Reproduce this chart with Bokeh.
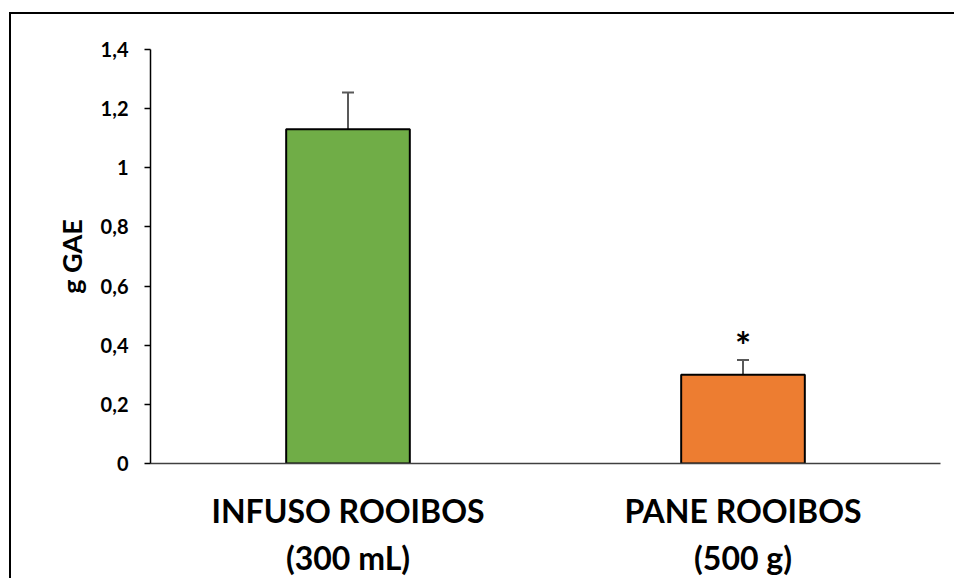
from bokeh.plotting import figure
from bokeh.models import ColumnDataSource, Whisker, TeeHead, FixedTicker, Range1d
from bokeh.core.properties import value
from bokeh.embed import file_html
from bokeh.resources import INLINE

categories = ["INFUSO ROOIBOS\n(300 mL)", "PANE ROOIBOS\n(500 g)"]
means = [1.13, 0.30]
errors = [0.125, 0.05]
colors = ["#70AD47", "#ED7D31"]
marks = ["", "*"]
y_ticks = [0, 0.2, 0.4, 0.6, 0.8, 1.0, 1.2, 1.4]
y_tick_labels = ["0", "0,2", "0,4", "0,6", "0,8", "1", "1,2", "1,4"]

FONT = "Lato"

src = ColumnDataSource(dict(
    x=categories, top=means, err=errors, color=colors, mark=marks,
    upper=[m + e for m, e in zip(means, errors)],
))

p = figure(
    x_range=categories, y_range=Range1d(0, 1.4),
    width=945, height=566, output_backend="svg", toolbar_location=None,
    min_border_left=139, min_border_right=16, min_border_top=35, min_border_bottom=110,
    background_fill_color="white", border_fill_color="white", outline_line_color=None,
    styles={"border-top": "2px solid black", "border-left": "2px solid black",
            "margin-top": "12px", "margin-left": "9px"},
)

p.vbar(x="x", top="top", width=0.313, source=src, fill_color="color",
       line_color="black", line_width=2)

w = Whisker(base="x", lower="top", upper="upper", source=src,
            line_color="#595959", line_width=2,
            upper_head=TeeHead(size=12, line_color="#595959", line_width=2),
            lower_head=None)
p.add_layout(w)

p.text(x="x", y="upper", text="mark", source=src, text_align="center",
       text_baseline="alphabetic", y_offset=-15, text_font=value(FONT),
       text_font_style="bold", text_font_size="38px", text_color="black")

p.xgrid.visible = False
p.ygrid.visible = False

p.yaxis.ticker = FixedTicker(ticks=y_ticks)
p.yaxis.major_label_overrides = {t: l for t, l in zip(y_ticks, y_tick_labels)}
p.yaxis.minor_tick_line_color = None
p.yaxis.major_tick_in = 0
p.yaxis.major_tick_out = 6
p.yaxis.major_tick_line_color = "black"
p.yaxis.major_tick_line_width = 1.5
p.yaxis.axis_line_color = "black"
p.yaxis.axis_line_width = 1.5
p.yaxis.major_label_standoff = 16
p.yaxis.major_label_text_font = FONT
p.yaxis.major_label_text_font_style = "bold"
p.yaxis.major_label_text_font_size = "20px"
p.yaxis.major_label_text_color = "black"
p.yaxis.axis_label = "g GAE"
p.yaxis.axis_label_text_font = FONT
p.yaxis.axis_label_text_font_style = "bold"
p.yaxis.axis_label_text_font_size = "27px"
p.yaxis.axis_label_text_color = "black"
p.yaxis.axis_label_standoff = 10

p.xaxis.major_tick_line_color = None
p.xaxis.minor_tick_line_color = None
p.xaxis.axis_line_color = "#404040"
p.xaxis.axis_line_width = 1.5
p.xaxis.major_label_standoff = 21
p.xaxis.major_label_text_font = FONT
p.xaxis.major_label_text_font_style = "bold"
p.xaxis.major_label_text_font_size = "32px"
p.xaxis.major_label_text_color = "black"
p.xaxis.major_label_text_line_height = 1.22
p.x_range.range_padding = 0

open("out.html", "w").write(file_html(p, INLINE))
